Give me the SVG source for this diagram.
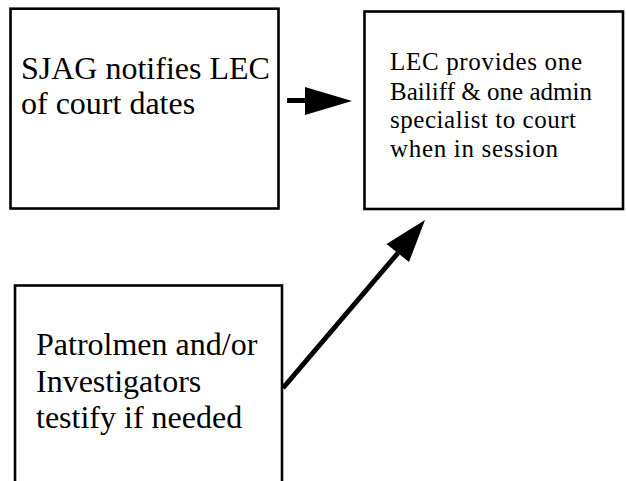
<svg xmlns="http://www.w3.org/2000/svg" width="626" height="481" viewBox="0 0 626 481">
<style>
.box{fill:#fff;stroke:#000;stroke-width:2.6}
.t{font-family:"Liberation Serif","Times New Roman",serif;fill:#000}
.big{font-size:32px}
.mid{font-size:25px}
.shaft{stroke:#000;stroke-width:5;fill:none}
.head{fill:#000;stroke:none}
</style>
<rect width="626" height="481" fill="#fff"/>
<g id="node-sjag">
<rect class="box" x="10.5" y="8.7" width="268" height="199.8"/>
<text class="t big" x="21" y="79">SJAG notifies LEC</text>
<text class="t big" x="21" y="114">of court dates</text>
</g>
<g id="node-lec">
<rect class="box" x="364.5" y="11.5" width="258.5" height="197.5"/>
<text class="t mid" x="390" y="70" textLength="192" lengthAdjust="spacing">LEC provides one</text>
<text class="t mid" x="390" y="100" textLength="202" lengthAdjust="spacing">Bailiff &amp; one admin</text>
<text class="t mid" x="390" y="128" textLength="186" lengthAdjust="spacing">specialist to court</text>
<text class="t mid" x="390" y="157" textLength="168" lengthAdjust="spacing">when in session</text>
</g>
<g id="node-patrol">
<rect class="box" x="15" y="285.5" width="267" height="210"/>
<text class="t big" x="36" y="355">Patrolmen and/or</text>
<text class="t big" x="36" y="392">Investigators</text>
<text class="t big" x="36" y="428">testify if needed</text>
</g>
<g id="connectors">
<line class="shaft" x1="287" y1="100.5" x2="306" y2="100.5"/>
<polygon class="head" points="305,87 352,101 305,115"/>
<line class="shaft" x1="283" y1="388" x2="398" y2="253"/>
<polygon class="head" points="425,220 386.5,244 409,262"/>
</g>
</svg>
